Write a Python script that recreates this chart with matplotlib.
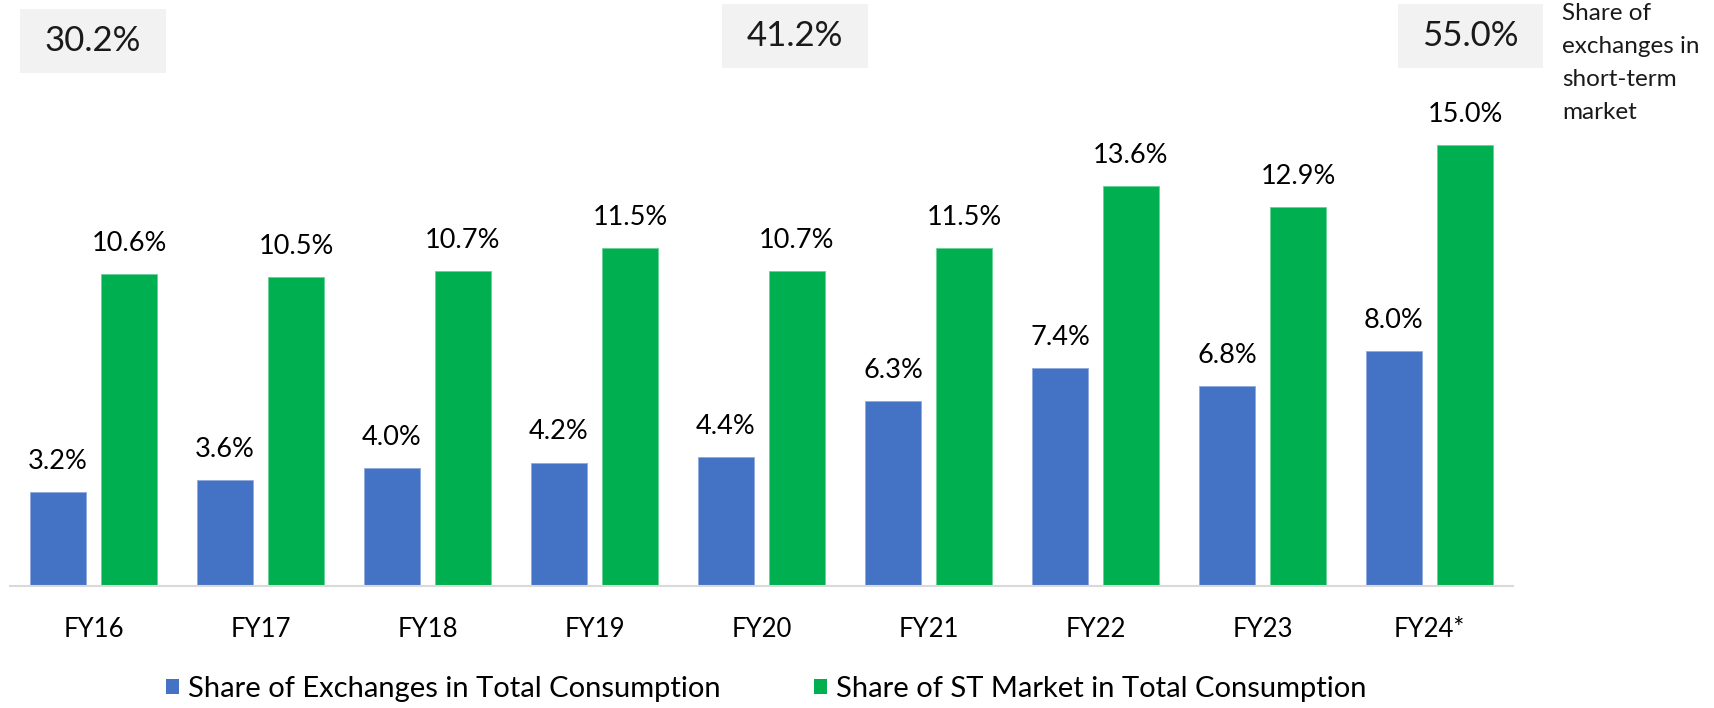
import matplotlib
matplotlib.use("Agg")
import matplotlib.pyplot as plt
from matplotlib.patches import Rectangle, Patch
import numpy as np

categories = ["FY16", "FY17", "FY18", "FY19", "FY20", "FY21", "FY22", "FY23", "FY24*"]
exchanges_share = [3.2, 3.6, 4.0, 4.2, 4.4, 6.3, 7.4, 6.8, 8.0]
st_market_share = [10.6, 10.5, 10.7, 11.5, 10.7, 11.5, 13.6, 12.9, 15.0]
exchange_in_st = [30.2, 41.2, 55.0]
series_names = ["Share of Exchanges in Total Consumption",
                "Share of ST Market in Total Consumption"]
side_note = "Share of\nexchanges in\nshort-term\nmarket"

BLUE = "#4472C4"
GREEN = "#00B050"
FONT = "Lato"

W, H = 1715, 708
fig = plt.figure(figsize=(W / 100, H / 100), dpi=100)
ax = fig.add_axes([10 / W, (H - 586) / H, 1503 / W, 506 / H])

x = np.arange(len(categories))
bw = 0.335
off = 0.2126
b1 = ax.bar(x - off, exchanges_share, bw, color=BLUE, edgecolor="#8fa9dc", linewidth=0.6)
b2 = ax.bar(x + off, st_market_share, bw, color=GREEN, edgecolor="#66d096", linewidth=0.6)

for bars, vals in ((b1, exchanges_share), (b2, st_market_share)):
    for r, v in zip(bars, vals):
        ax.annotate(f"{v:.1f}%", (r.get_x() + r.get_width() / 2, v),
                    xytext=(0, 13), textcoords="offset points",
                    ha="center", va="bottom", fontsize=19.5, family=FONT, color="black")

ax.set_xlim(-0.5, len(categories) - 0.5)
ax.set_ylim(0, 506 / 29.4)
ax.set_xticks(x)
ax.set_xticklabels(categories, fontsize=18.5, family=FONT)
ax.tick_params(axis="x", length=0, pad=22)
ax.set_yticks([])
for s in ("top", "right", "left"):
    ax.spines[s].set_visible(False)
ax.spines["bottom"].set_color("#d9d9d9")
ax.spines["bottom"].set_linewidth(1.5)

# top boxes
boxes = [(20, 9, 146, 64), (722, 4, 146, 64), (1398, 4, 145, 64)]
for (bx, by, bwid, bh), val in zip(boxes, exchange_in_st):
    fig.patches.append(Rectangle((bx / W, 1 - (by + bh) / H), bwid / W, bh / H,
                                 transform=fig.transFigure, facecolor="#f2f2f2",
                                 edgecolor="none"))
    fig.text((bx + bwid / 2) / W, 1 - (by + bh / 2) / H, f"{val:.1f}%",
             ha="center", va="center", fontsize=25, family=FONT, color="#1a1a1a")

fig.text(1562 / W, 1 - 3 / H, side_note, ha="left", va="top", fontsize=17.5,
         family=FONT, color="#1a1a1a", linespacing=1.7)

handles = [Patch(facecolor=BLUE), Patch(facecolor=GREEN)]
fig.legend(handles, series_names, loc="center", bbox_to_anchor=(766 / W, 1 - 689 / H),
           ncol=2, frameon=False, prop={"family": FONT, "size": 21},
           handlelength=0.45, handleheight=0.45, handletextpad=0.3, columnspacing=3.2,
           borderpad=0, borderaxespad=0)

fig.savefig("out.png", dpi=100)
